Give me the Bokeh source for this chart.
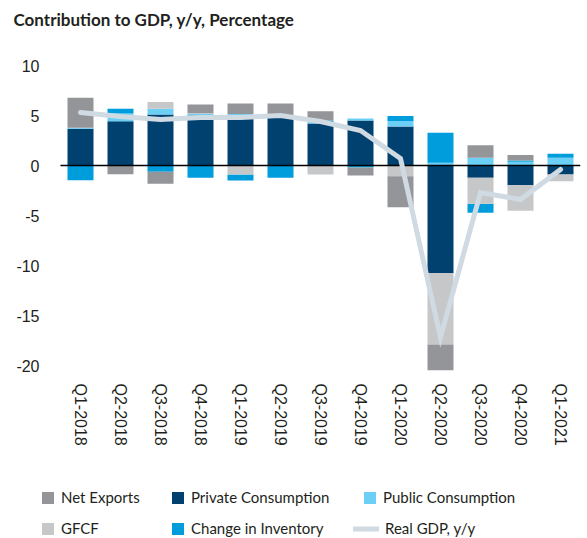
import numpy as np
from bokeh.plotting import figure
from bokeh.layouts import column
from bokeh.models import Range1d, FixedTicker, Legend, LegendItem, Title
from bokeh.embed import file_html
from bokeh.resources import INLINE

quarters = ["Q1-2018", "Q2-2018", "Q3-2018", "Q4-2018", "Q1-2019", "Q2-2019", "Q3-2019",
            "Q4-2019", "Q1-2020", "Q2-2020", "Q3-2020", "Q4-2020", "Q1-2021"]
net_exports = [3.0, -0.87, -1.2, 0.85, 1.05, 1.2, 0.93, -0.8, -3.1, -2.6, 1.26, 0.55, 0.0]
private_consumption = [3.67, 4.43, 5.1, 5.0, 5.0, 4.9, 4.2, 4.5, 3.9, -10.74, -1.23, -1.97, -0.9]
public_consumption = [0.1, 0.77, 0.57, 0.15, 0.15, 0.1, 0.15, 0.2, 0.55, 0.27, 0.77, 0.37, 0.77]
gfcf = [0.0, 0.0, 0.67, 0.1, -0.9, 0.0, -0.9, 0.0, -1.07, -7.16, -2.6, -2.55, -0.67]
change_in_inventory = [-1.47, 0.47, -0.63, -1.23, -0.6, -1.23, 0.15, -0.2, 0.5, 3.0, -0.9, 0.13, 0.4]
real_gdp = [5.3, 4.9, 4.6, 4.8, 4.8, 5.0, 4.4, 3.5, 0.7, -17.2, -2.7, -3.4, -0.4]
y_ticks = [10, 5, 0, -5, -10, -15, -20]

series = {
    "Net Exports": (net_exports, "#939598"),
    "Private Consumption": (private_consumption, "#00416f"),
    "Public Consumption": (public_consumption, "#6ccff6"),
    "GFCF": (gfcf, "#c6c7c9"),
    "Change in Inventory": (change_in_inventory, "#009ddc"),
}
GDP_COLOR = "#d0dae2"
TEXT_COLOR = "#231f20"
pos_order = ["Private Consumption", "Public Consumption", "Change in Inventory", "GFCF", "Net Exports"]
neg_order = ["Private Consumption", "Public Consumption", "GFCF", "Change in Inventory", "Net Exports"]

n = len(quarters)
x_idx = list(range(n))
pos_b, neg_b = {}, {}
cum = np.zeros(n)
for k in pos_order:
    v = np.array(series[k][0], dtype=float)
    pos_b[k] = cum.copy()
    cum += np.clip(v, 0, None)
cum = np.zeros(n)
for k in neg_order:
    v = np.array(series[k][0], dtype=float)
    neg_b[k] = cum.copy()
    cum += np.clip(v, None, 0)

W = 585
P_H = 475
FRAME_LEFT = 40
FRAME_TOP = 31
# empty headroom above 10 keeps the title high while the plot scale stays at 10 px per unit
p = figure(x_range=Range1d(-1.0, n - 0.5), y_range=Range1d(-20.5, 13.4),
           width=W, height=P_H, output_backend="svg", toolbar_location=None,
           min_border_left=FRAME_LEFT, min_border_right=W - 580, min_border_top=FRAME_TOP,
           min_border_bottom=P_H - 370, title=None)

xa = p.below[0]
ya = p.left[0]

p.add_layout(Title(text="Contribution to GDP, y/y, Percentage", align="left", offset=13 - FRAME_LEFT,
                   vertical_align="top", standoff=0, text_font="Lato", text_font_size="17px",
                   text_font_style="bold", text_color=TEXT_COLOR), "above")

p.outline_line_color = None
p.xgrid.visible = False
p.ygrid.visible = False

for k in pos_order:
    vals, color = series[k]
    v = np.array(vals, dtype=float)
    bottom = np.where(v >= 0, pos_b[k], neg_b[k])
    top = bottom + v
    p.vbar(x=x_idx, bottom=bottom, top=top, width=0.65, fill_color=color, line_color=None)

# zero reference line across the category area
p.line(x=[x_idx[0] - 0.5, x_idx[-1] + 0.5], y=[0, 0], line_color="black", line_width=1.5)
p.line(x=x_idx, y=real_gdp, line_color=GDP_COLOR, line_width=5,
       line_join="miter", line_cap="round")

ya.ticker = FixedTicker(ticks=y_ticks)
ya.major_label_overrides = {t: str(t) for t in y_ticks}
xa.ticker = FixedTicker(ticks=x_idx)
xa.major_label_overrides = {i: q for i, q in zip(x_idx, quarters)}
for ax in (xa, ya):
    ax.axis_line_color = None
    ax.major_tick_line_color = None
    ax.minor_tick_line_color = None
    ax.major_tick_in = 0
    ax.major_tick_out = 0
    ax.major_label_text_font = "Liberation Sans"
    ax.major_label_text_font_size = "16px"
    ax.major_label_text_color = TEXT_COLOR
ya.major_label_standoff = 1
xa.major_label_orientation = "vertical"
xa.major_label_standoff = 13

# legend panel (separate figure below the chart)
L_H = 538 - P_H
lp = figure(width=W, height=L_H, x_range=Range1d(0, 1), y_range=Range1d(0, 1),
            output_backend="svg", toolbar_location=None,
            min_border_left=FRAME_LEFT, min_border_right=0, min_border_top=0, min_border_bottom=0,
            x_axis_location=None, y_axis_location=None)
lp.outline_line_color = None
lp.grid.visible = False

lr = {}
for k, (vals, color) in series.items():
    lr[k] = lp.vbar(x=[-10], bottom=[0], top=[0], width=0.5, fill_color=color, line_color=None)
lr["Real GDP, y/y"] = lp.line(x=[-10, -9], y=[0, 0], line_color=GDP_COLOR, line_width=5,
                              line_cap="round")

GH, LH, SP = 15, 22, 9


def add_legend(labels, page_x, row_top, gw=15):
    items = [LegendItem(label=lab, renderers=[lr[lab]]) for lab in labels]
    h = len(labels) * LH + (len(labels) - 1) * SP
    lg = Legend(items=items, location=(page_x - FRAME_LEFT, L_H - h - (row_top - P_H)),
                orientation="vertical",
                glyph_width=gw, glyph_height=GH, label_height=LH, spacing=SP,
                padding=0, margin=0, border_line_color=None, background_fill_alpha=0,
                label_standoff=6, label_text_font="Lato", label_text_font_size="15px",
                label_text_color=TEXT_COLOR)
    lp.add_layout(lg, "center")


add_legend(["Net Exports", "GFCF"], 40, 486)
add_legend(["Private Consumption", "Change in Inventory"], 170, 486)
add_legend(["Public Consumption"], 362, 486)
add_legend(["Real GDP, y/y"], 353, 517, gw=26)

open("out.html", "w").write(file_html(column(p, lp), INLINE))
